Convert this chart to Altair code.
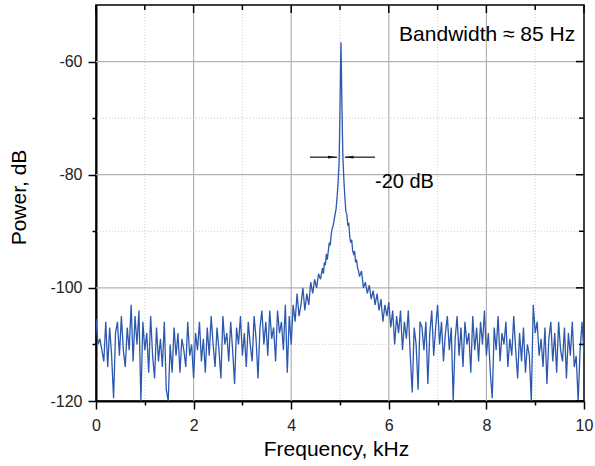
import altair as alt
import numpy as np
import pandas as pd

FONT = "Liberation Sans"

# ---- spectrum, left of the peak: 0.00 .. 4.60 kHz, 0.04 kHz step ----
left_start = 0.0
left_step = 0.04
left_power = [
    -105.5, -110, -109, -111, -113, -106, -114, -107, -112, -119.5,
    -108, -106, -112, -105, -111, -114, -107, -111, -103, -113,
    -105, -110, -104, -120, -106, -111, -108, -115, -105, -112,
    -116, -107, -113, -109, -114, -106, -118, -120, -110, -115,
    -107, -112, -108, -115, -109, -111, -114, -106, -112, -110,
    -116, -108, -111, -106, -113, -109, -115, -107, -112, -105,
    -110, -114, -107, -111, -116, -105, -110, -108, -113, -106,
    -111, -117, -107, -110, -105, -112, -108, -114, -106, -110,
    -113, -105, -109, -116, -107, -104, -110, -106, -112, -104,
    -109, -107, -113, -104, -108, -106, -111, -103, -115, -105,
    -110, -103, -106, -101, -105, -103, -100, -104, -101, -103,
    -99, -101, -98.5, -100, -97.5, -98.5,
]

# ---- peak region (finer sampling) ----
peak_freq = [
    4.64, 4.66, 4.68, 4.70, 4.72, 4.74, 4.76, 4.78, 4.80, 4.82,
    4.84, 4.86, 4.88, 4.90, 4.92, 4.94, 4.96, 4.98, 4.99, 5.00,
    5.01, 5.02, 5.03, 5.04, 5.05, 5.06, 5.08, 5.10, 5.12, 5.14,
    5.16, 5.18, 5.20, 5.22, 5.24, 5.26, 5.28, 5.30, 5.32, 5.34,
    5.36, 5.38,
]
peak_power = [
    -96.5, -97.5, -95.5, -96, -94, -95, -93.5, -92, -92.5, -90.5,
    -89.5, -89, -88, -87, -86, -84, -81.5, -78, -74, -68,
    -62, -56.6, -62, -68, -73, -77, -81, -84, -86.5, -87,
    -89, -88.5, -91, -92, -91.5, -93.5, -94, -93.5, -95.5, -95,
    -96.5, -97,
]

# ---- spectrum, right of the peak: 5.40 .. 10.00 kHz, 0.04 kHz step ----
right_start = 5.40
right_step = 0.04
right_power = [
    -98, -97, -100, -99, -101, -99.5, -102, -100.5, -103, -101,
    -104, -102, -106, -103, -105, -102.5, -107, -104, -110, -105,
    -108, -104, -111, -106, -109, -104, -112, -118.5, -107, -110,
    -118, -106, -107, -111, -106, -117, -108, -104, -112, -107,
    -103, -110, -106, -113, -108, -105, -111, -107, -120, -109,
    -105, -112, -107, -114, -106, -110, -108, -115, -105, -111,
    -107, -113, -106, -110, -104, -112, -108, -115, -119.5, -107,
    -111, -105, -113, -108, -110, -106, -114, -109, -112, -105,
    -111, -116, -108, -113, -107, -115, -110, -112, -120, -103,
    -108, -106, -112, -109, -114, -107, -117, -109, -106, -113,
    -108, -115, -106, -111, -113, -107, -116, -108, -112, -106,
    -114, -112, -120, -111, -106, -112,
]

# ---- axes / grid ----
x_ticks = [0, 1, 2, 3, 4, 5, 6, 7, 8, 9, 10]
y_ticks = [-120, -110, -100, -90, -80, -70, -60]
x_major_grid = [2, 4, 6, 8]
x_minor_grid = [1, 3, 5, 7, 9]
y_major_grid = [-60, -80, -100]
y_minor_grid = [-70, -90, -110]

# ---- annotations ----
bw_text = "Bandwidth ≈ 85 Hz"
bw_pos = (9.82, -56.4)
db_text = "-20 dB"
db_pos = (5.717, -82.3)
arrow_level = -76.9
arrow_left = (4.385, 4.94)
arrow_right = (5.10, 5.717)
head_left_x = 4.846
head_right_x = 5.184

left_freq = list(np.round(left_start + left_step * np.arange(len(left_power)), 3))
right_freq = list(np.round(right_start + right_step * np.arange(len(right_power)), 3))
spec = pd.DataFrame({
    "freq": left_freq + peak_freq + right_freq,
    "power": left_power + peak_power + right_power,
})

W, H = 488, 396
xscale = alt.Scale(domain=[0, 10], nice=False, zero=False)
yscale = alt.Scale(domain=[-120, -50], nice=False, zero=False)

x_axis = alt.Axis(
    values=x_ticks,
    labelExpr="datum.value % 2 == 0 ? toString(datum.value) : ''",
    labelFlush=False,
    title="Frequency, kHz",
    grid=False,
    domainColor="black", domainWidth=2,
    tickColor="black", tickWidth=1.5,
    tickSize={"condition": {"test": "datum.value % 2 == 0", "value": 8}, "value": 4},
    labelFont=FONT, labelFontSize=16, labelColor="#222", labelPadding=8,
    titleFont=FONT, titleFontSize=21, titleFontWeight="normal", titleColor="black",
    titleX=240, titleY=54, titleBaseline="alphabetic", titleAlign="center",
)
y_axis = alt.Axis(
    values=y_ticks,
    labelExpr="datum.value % 20 == 0 ? toString(datum.value) : ''",
    labelFlush=False,
    title="Power, dB",
    grid=False,
    domainColor="black", domainWidth=2,
    tickColor="black", tickWidth=1.5,
    tickSize={"condition": {"test": "datum.value % 20 == 0", "value": 8}, "value": 4},
    labelFont=FONT, labelFontSize=16, labelColor="#222", labelPadding=6,
    titleFont=FONT, titleFontSize=21, titleFontWeight="normal", titleColor="black",
    titleX=-71, titleY=192, titleBaseline="alphabetic", titleAlign="center", titleAngle=270,
)


def X(field="freq:Q"):
    return alt.X(field, scale=xscale, axis=x_axis)


def Y(field="power:Q"):
    return alt.Y(field, scale=yscale, axis=y_axis)


def vrules(vals, **kw):
    return alt.Chart(pd.DataFrame({"freq": vals})).mark_rule(**kw).encode(x=X())


def hrules(vals, **kw):
    return alt.Chart(pd.DataFrame({"power": vals})).mark_rule(**kw).encode(y=Y())


minor_style = dict(color="#cfcfcf", strokeWidth=1, strokeDash=[1, 2])
major_style = dict(color="#b3b3b3", strokeWidth=1.2)

grid = [
    vrules(x_minor_grid, **minor_style),
    hrules(y_minor_grid, **minor_style),
    vrules(x_major_grid, **major_style),
    hrules(y_major_grid, **major_style),
]

# inward ticks on top and right frame
top_major = alt.Chart(pd.DataFrame({"freq": [t for t in x_ticks if t % 2 == 0]})).mark_rule(
    color="black", strokeWidth=1.5).encode(x=X(), y=alt.value(0), y2=alt.value(8))
top_minor = alt.Chart(pd.DataFrame({"freq": [t for t in x_ticks if t % 2 == 1]})).mark_rule(
    color="black", strokeWidth=1.5).encode(x=X(), y=alt.value(0), y2=alt.value(5))
right_major = alt.Chart(pd.DataFrame({"power": [t for t in y_ticks if t % 20 == 0]})).mark_rule(
    color="black", strokeWidth=1.5).encode(y=Y(), x=alt.value(W - 8), x2=alt.value(W))
right_minor = alt.Chart(pd.DataFrame({"power": [t for t in y_ticks if t % 20 != 0]})).mark_rule(
    color="black", strokeWidth=1.5).encode(y=Y(), x=alt.value(W - 5), x2=alt.value(W))

line = alt.Chart(spec).mark_line(color="#2c58ae", strokeWidth=1.3, clip=True).encode(
    x=X(), y=Y())

arrow_df = pd.DataFrame({
    "freq": [arrow_left[0], arrow_right[0]],
    "freq2": [arrow_left[1], arrow_right[1]],
    "power": [arrow_level, arrow_level],
})
arrow_lines = alt.Chart(arrow_df).mark_rule(color="#222", strokeWidth=1.3).encode(
    x=X(), x2="freq2:Q", y=Y())

head_r = alt.Chart(pd.DataFrame({"freq": [head_left_x], "power": [arrow_level]})).mark_point(
    shape="M-1,-0.32L1,0L-1,0.32Z", filled=True, color="#111", opacity=1, size=81,
    strokeWidth=0).encode(x=X(), y=Y())
head_l = alt.Chart(pd.DataFrame({"freq": [head_right_x], "power": [arrow_level]})).mark_point(
    shape="M1,-0.32L-1,0L1,0.32Z", filled=True, color="#111", opacity=1, size=81,
    strokeWidth=0).encode(x=X(), y=Y())

bw_label = alt.Chart(pd.DataFrame({"freq": [bw_pos[0]], "power": [bw_pos[1]],
                                   "label": [bw_text]})).mark_text(
    font=FONT, fontSize=21, color="black", align="right", baseline="alphabetic").encode(
    x=X(), y=Y(), text="label:N")
db_label = alt.Chart(pd.DataFrame({"freq": [db_pos[0]], "power": [db_pos[1]],
                                   "label": [db_text]})).mark_text(
    font=FONT, fontSize=20, color="black", align="left", baseline="alphabetic").encode(
    x=X(), y=Y(), text="label:N")

chart = alt.layer(
    *grid, line, top_major, top_minor, right_major, right_minor,
    arrow_lines, head_r, head_l, bw_label, db_label,
).properties(
    width=W, height=H,
    autosize=alt.AutoSizeParams(type="none"),
    padding={"left": 96, "top": 5, "right": 11, "bottom": 65},
    background="white",
).configure_view(stroke="black", strokeWidth=1.5)

chart.save("out.html", embed_options={"renderer": "svg", "actions": False})
